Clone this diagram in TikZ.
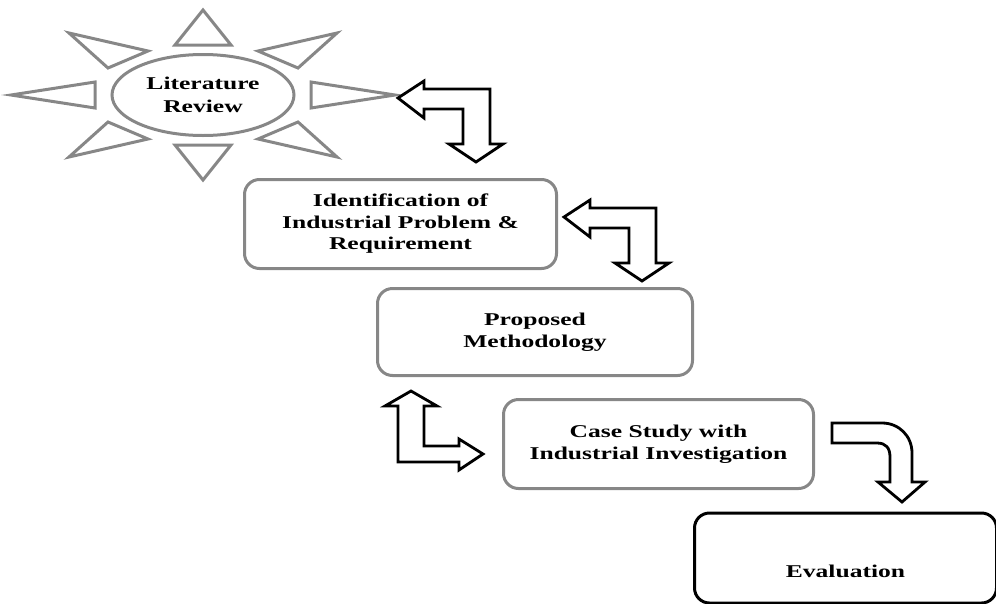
\documentclass[tikz,border=0pt]{standalone}
\usepackage{fontspec}
\usepackage{tikz}
\usetikzlibrary{shapes, positioning, calc}
\newfontfamily\phasefont{Liberation Serif}[FakeStretch=1.42]
\definecolor{rim}{RGB}{135,135,135}

\tikzset{
  phase/.style={rectangle, rounded corners=15pt, draw=rim, line width=3pt, align=center,
    inner sep=0pt, font=\phasefont\bfseries\fontsize{18}{21.5}\selectfont},
  ray/.style={draw=rim, line width=3pt},
  blockarrow/.style={draw=black, line width=2.8pt, fill=white},
  turnarrow/.pic={
    \draw[blockarrow] (0,0) -- (26,-17) -- (26,-9) -- (92,-9) -- (92,46) -- (105,46)
      -- (78,64) -- (51,46) -- (65,46) -- (65,11) -- (26,11) -- (26,20) -- cycle;
  }
}

\begin{document}
\begin{tikzpicture}[x=1pt, y=-1pt]
			\useasboundingbox (0,0) rectangle (996,603);

			% Nodes
			\node (lit) [ellipse, draw=rim, line width=3pt, inner sep=0pt, minimum width=182pt, minimum height=81pt,
			  align=center, font=\phasefont\bfseries\fontsize{18}{22.5}\selectfont] at (203,95) {Literature\\Review};
			\node (ident) [phase, minimum width=312pt, minimum height=89pt] at (400.5,224) {Identification of\\Industrial Problem \&\\Requirement};
			\node (method) [phase, minimum width=315pt, minimum height=87pt] at (535,332) {Proposed\\Methodology};
			\node (case) [phase, minimum width=310pt, minimum height=89pt] at (658.5,444) {Case Study with\\Industrial Investigation};
			\node (eval) [phase, draw=black, minimum width=302pt, minimum height=90pt, text height=38pt, text depth=0pt] at (845.5,558) {Evaluation};

			% Sun rays
			\begin{scope}[shift={(lit.center)}]
				\foreach \sx in {1,-1} {
					\draw[ray, xscale=\sx] (192,0) -- (108,-13) -- (108,13) -- cycle;
					\draw[ray, yscale=\sx] (0,85) -- (-28,50) -- (28,50) -- cycle;
					\foreach \sy in {1,-1}
						\draw[ray, xscale=\sx, yscale=\sy] (134,62) -- (55,44) -- (95,27) -- cycle;
				}
			\end{scope}

			% Edges
			\pic at (398,98) {turnarrow};
			\pic at ($(ident.east)+(6,-7)$) {turnarrow};
			\draw[blockarrow] (411,391) -- (437,406) -- (424,406) -- (424,446) -- (459,446) -- (459,439)
			  -- (483,454) -- (459,470) -- (459,462) -- (398,462) -- (398,406) -- (385,406) -- cycle;
			\draw[blockarrow] (832,423) -- (882,423) .. controls (899,423) and (912,436) .. (912,453)
			  -- (912,482) -- (925,482) -- (902,502) -- (878,482) -- (890,482) -- (890,457)
			  .. controls (890,448) and (886,443) .. (877,443) -- (832,443) -- cycle;

		\end{tikzpicture}
\end{document}
